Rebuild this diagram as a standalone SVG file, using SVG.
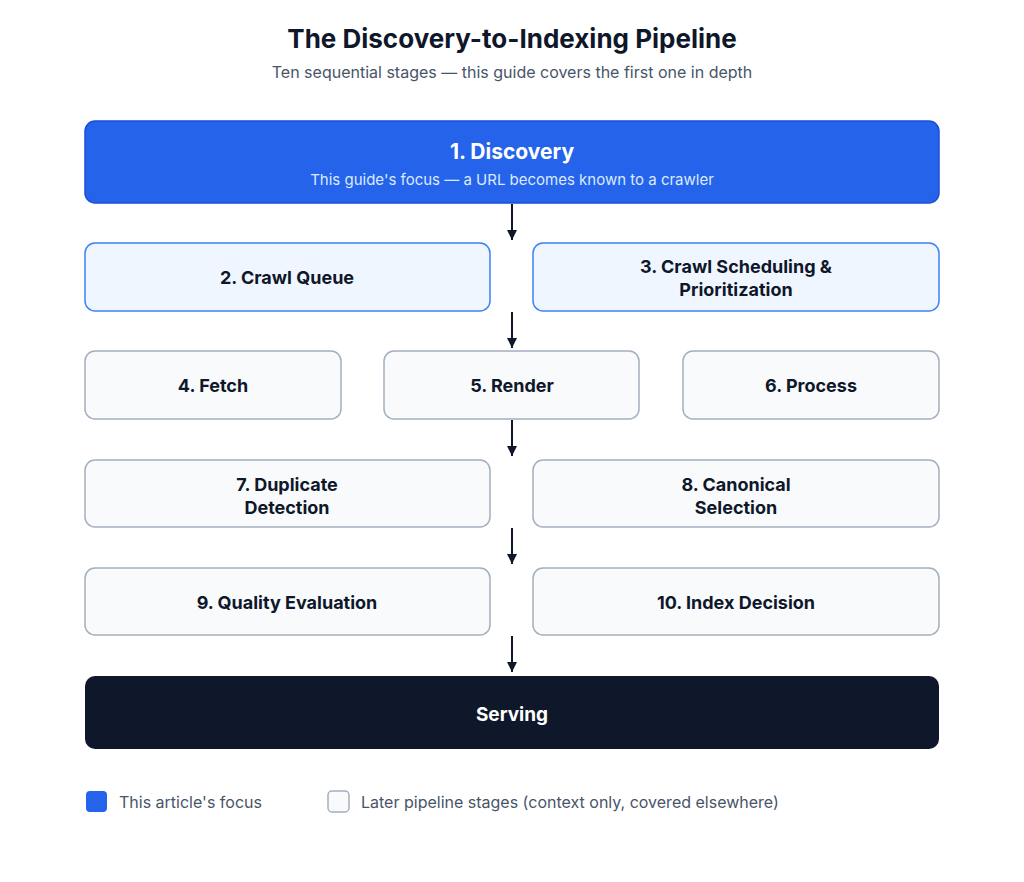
<svg xmlns="http://www.w3.org/2000/svg" width="1024" height="882" viewBox="0 0 1024 882">
<style>
text{font-family:Inter,"Liberation Sans",sans-serif;text-anchor:middle}
.focus{fill:#eff6ff;stroke:#3b82f6;stroke-width:1.5}
.later{fill:#f8fafc;stroke:#a3afbf;stroke-width:1.5}
.lbl{font-size:18px;font-weight:700;fill:#0f172a}
.conn line{stroke:#0f172a;stroke-width:2}
</style>
<defs><marker id="ah" markerWidth="10" markerHeight="10" refX="5" refY="8" orient="auto" markerUnits="userSpaceOnUse"><path d="M0,0 L10,0 L5,9 Z" fill="#0f172a" transform="translate(0,0)"/></marker>
<marker id="a" viewBox="0 0 10 10" refX="10" refY="5" markerWidth="10" markerHeight="10" orient="auto" markerUnits="userSpaceOnUse"><path d="M0,0 L10,5 L0,10 Z" fill="#0f172a"/></marker></defs>
<rect width="1024" height="882" fill="#fff"/>
<text x="512" y="48" style="font-size:26px;font-weight:700;fill:#0f172a">The Discovery-to-Indexing Pipeline</text>
<text x="512" y="78" style="font-size:16px;fill:#475569">Ten sequential stages — this guide covers the first one in depth</text>
<g class="conn">
<line x1="512" y1="204" x2="512" y2="240" marker-end="url(#a)"/>
<line x1="512" y1="312" x2="512" y2="348" marker-end="url(#a)"/>
<line x1="512" y1="420" x2="512" y2="456" marker-end="url(#a)"/>
<line x1="512" y1="528" x2="512" y2="564" marker-end="url(#a)"/>
<line x1="512" y1="636" x2="512" y2="672" marker-end="url(#a)"/>
</g>
<g id="n1"><rect x="85" y="121" width="854" height="82" rx="10" fill="#2563eb" stroke="#1d4ed8" stroke-width="1.5"/>
<text x="512" y="159" style="font-size:21px;font-weight:700;fill:#fff">1. Discovery</text>
<text x="512" y="185" style="font-size:15px;fill:#dbeafe">This guide's focus — a URL becomes known to a crawler</text></g>
<g id="n2"><rect class="focus" x="85" y="243" width="405" height="68" rx="10"/><text class="lbl" x="287" y="284">2. Crawl Queue</text></g>
<g id="n3"><rect class="focus" x="533" y="243" width="406" height="68" rx="10"/><text class="lbl" x="736" y="273">3. Crawl Scheduling &amp;</text><text class="lbl" x="736" y="296">Prioritization</text></g>
<g id="n4"><rect class="later" x="85" y="351" width="256" height="68" rx="10"/><text class="lbl" x="213" y="392">4. Fetch</text></g>
<g id="n5"><rect class="later" x="384" y="351" width="255" height="68" rx="10"/><text class="lbl" x="512" y="392">5. Render</text></g>
<g id="n6"><rect class="later" x="683" y="351" width="256" height="68" rx="10"/><text class="lbl" x="811" y="392">6. Process</text></g>
<g id="n7"><rect class="later" x="85" y="460" width="405" height="67" rx="10"/><text class="lbl" x="287" y="491">7. Duplicate</text><text class="lbl" x="287" y="514">Detection</text></g>
<g id="n8"><rect class="later" x="533" y="460" width="406" height="67" rx="10"/><text class="lbl" x="736" y="491">8. Canonical</text><text class="lbl" x="736" y="514">Selection</text></g>
<g id="n9"><rect class="later" x="85" y="568" width="405" height="67" rx="10"/><text class="lbl" x="287" y="609">9. Quality Evaluation</text></g>
<g id="n10"><rect class="later" x="533" y="568" width="406" height="67" rx="10"/><text class="lbl" x="736" y="609">10. Index Decision</text></g>
<g id="serving"><rect x="85" y="676" width="854" height="73" rx="10" fill="#0f172a"/><text x="512" y="721" style="font-size:19px;font-weight:700;fill:#fff">Serving</text></g>
<g id="legend">
<rect x="86" y="791" width="21" height="21" rx="4" fill="#2563eb"/>
<text x="119" y="808" style="font-size:16px;fill:#475569;text-anchor:start">This article's focus</text>
<rect x="328" y="791" width="21" height="21" rx="4" fill="#f8fafc" stroke="#a3afbf" stroke-width="1.5"/>
<text x="361" y="808" style="font-size:16px;fill:#475569;text-anchor:start">Later pipeline stages (context only, covered elsewhere)</text>
</g>
</svg>
